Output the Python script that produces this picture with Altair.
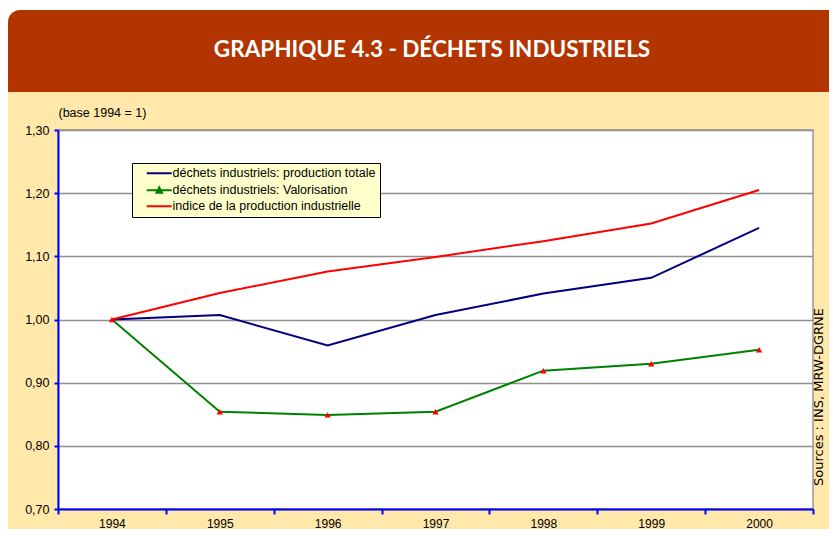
import altair as alt
import pandas as pd

# ---- data ----
years = ["1994", "1995", "1996", "1997", "1998", "1999", "2000"]
series_names = [
    "déchets industriels: production totale",
    "déchets industriels: Valorisation",
    "indice de la production industrielle",
]
production_totale = [1.000, 1.007, 0.959, 1.007, 1.041, 1.066, 1.145]
valorisation = [1.000, 0.854, 0.849, 0.854, 0.919, 0.930, 0.952]
indice_production = [1.000, 1.042, 1.076, 1.099, 1.124, 1.152, 1.205]
series_colors = ["#000080", "#008000", "#FF0000"]
y_ticks = [0.70, 0.80, 0.90, 1.00, 1.10, 1.20, 1.30]

title_text = "GRAPHIQUE 4.3 - DÉCHETS INDUSTRIELS"
subtitle_text = "(base 1994 = 1)"
source_text = "Sources : INS, MRW-DGRNE"

rows = []
for name, vals in zip(series_names, [production_totale, valorisation, indice_production]):
    for yr, v in zip(years, vals):
        rows.append({"annee": yr, "serie": name, "valeur": v})
df = pd.DataFrame(rows)
df_valo = df[df["serie"] == series_names[1]]
one = pd.DataFrame({"k": [0]})

BEIGE = "#FFE8A9"
BROWN = "#B23500"
BLUE = "#0000FF"

LINE_PATH = "M0.9,0H5.9"
LINE_TRI_PATH = "M0.9,0H5.9M2.85,0.5L3.4,-0.55L3.95,0.5Z"
marked = series_names[1]

x_enc = alt.X(
    "annee:O",
    scale=alt.Scale(type="band", domain=years, paddingInner=0, paddingOuter=0),
    axis=alt.Axis(
        title=None, labelAngle=0, tickBand="extent", grid=False,
        domainColor=BLUE, domainWidth=2, tickColor=BLUE, tickWidth=2, tickSize=5,
        labelPadding=4, labelFont="Liberation Sans", labelFontSize=12, labelColor="black",
    ),
)
y_enc = alt.Y(
    "valeur:Q",
    scale=alt.Scale(domain=[0.7, 1.3], nice=False, zero=False),
    axis=alt.Axis(
        values=y_ticks,
        labelExpr="replace(format(datum.value, '.2f'), '.', ',')",
        title=subtitle_text, titleAngle=0, titleAlign="left", titleX=0, titleY=-14,
        titleBaseline="alphabetic", titleFont="Liberation Sans", titleFontSize=12.5,
        titleFontWeight="normal", titleColor="black",
        domainColor=BLUE, domainWidth=2, tickColor=BLUE, tickWidth=2, tickSize=4,
        labelPadding=5, labelFont="Liberation Sans", labelFontSize=12.5, labelColor="black",
        grid=True, gridColor="#8f8f8f", gridWidth=1.3,
    ),
)

color_enc = alt.Color(
    "serie:N",
    scale=alt.Scale(domain=series_names, range=series_colors),
    legend=alt.Legend(
        title=None, orient="none", legendX=74, legendY=33,
        fillColor="#FFFFCC", strokeColor="black", padding=4,
        symbolType=alt.ExprRef(expr=f"datum.value === '{marked}' ? '{LINE_TRI_PATH}' : '{LINE_PATH}'"),
        symbolFillColor=alt.ExprRef(expr=f"datum.value === '{marked}' ? '#008000' : 'transparent'"),
        symbolSize=100, symbolStrokeWidth=2,
        labelOffset=24, rowPadding=3,
        labelFont="Liberation Sans", labelFontSize=12.5, labelColor="black",
        labelLimit=400,
    ),
)

# decorative page elements
white_top = alt.Chart(one).mark_rect(color="white").encode(
    x=alt.value(-60), x2=alt.value(800), y=alt.value(-135), y2=alt.value(-38)
)
header = alt.Chart(one).mark_rect(color=BROWN, cornerRadiusTopLeft=12).encode(
    x=alt.value(-50), x2=alt.value(800), y=alt.value(-120), y2=alt.value(-38)
)
title = alt.Chart(one).mark_text(
    text=title_text, font="Lato", fontSize=22.5, fontWeight="bold", color="white",
    align="center", baseline="middle",
).encode(x=alt.value(374), y=alt.value(-80))
source = alt.Chart(one).mark_text(
    text=source_text, font="DejaVu Sans", fontSize=13, color="black",
    angle=270, align="center", baseline="alphabetic",
).encode(x=alt.value(765), y=alt.value(267))

lines = alt.Chart(df).mark_line(strokeWidth=2).encode(x=x_enc, y=y_enc, color=color_enc)
points = alt.Chart(df_valo).mark_point(
    shape="triangle-up", filled=True, color="#FF0000", size=40, opacity=1
).encode(x=x_enc, y=y_enc)

chart = alt.layer(white_top, header, title, source, lines, points).properties(
    width=755, height=379,
    autosize=alt.AutoSizeParams(type="none"),
    padding={"left": 50, "top": 122, "right": 16, "bottom": 20},
).configure(background=BEIGE).configure_view(
    fill="white", stroke="#999999", strokeWidth=1.5
)

chart.save("out.html", embed_options={"renderer": "svg", "actions": False})
